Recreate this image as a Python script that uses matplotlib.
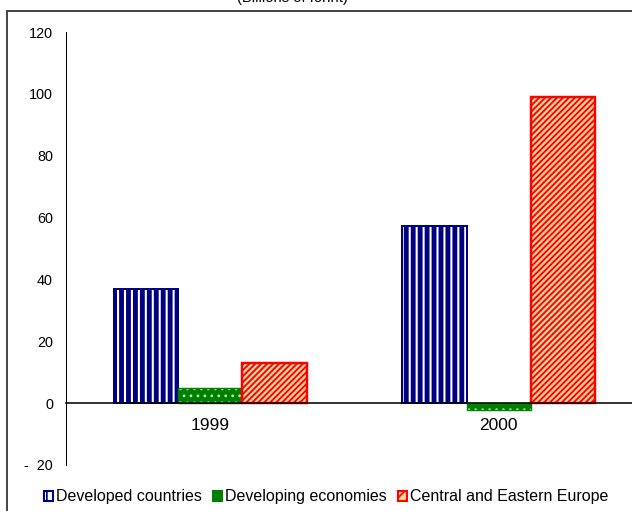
import matplotlib
matplotlib.use("Agg")
import matplotlib.pyplot as plt
import numpy as np
from matplotlib.patches import Patch, Rectangle

# data
years = ["1999", "2000"]
series = ["Developed countries", "Developing economies", "Central and Eastern Europe"]
developed = [36.8, 57.4]
developing = [4.8, -2.3]
central_eastern = [12.9, 99.0]
y_ticks = [-20, 0, 20, 40, 60, 80, 100, 120]
y_tick_labels = ["-  20", "0", "20", "40", "60", "80", "100", "120"]
title = "(Billions of forint)"

plt.rcParams['font.family'] = ['Liberation Sans', 'DejaVu Sans']

DPI = 125
W, H = 632, 511

# fill, hatch colour, hatch, edge colour, hatch width, edge width
styles = [
    ("white", "#000080", "|||", "#000080", 2.8, 1.15),
    ("#008000", "#b8e8b0", "...", "#008000", 0.8, 0.8),
    ("#ffd39b", "#ff0000", "///////", "#ff0000", 1.1, 1.4),
]
legend_hatches = ["||", "..", "////"]


def set_hatch_width(patches, lw):
    for p in patches:
        if hasattr(p, "set_hatch_linewidth"):
            p.set_hatch_linewidth(lw)
        else:
            p._hatch_linewidth = lw


fig = plt.figure(figsize=(W / DPI, H / DPI), dpi=DPI)
ax = fig.add_axes([66 / W, 1 - 465 / H, 577 / W, (465 - 32) / H])

x = np.arange(len(years))
width = 0.223
values = [developed, developing, central_eastern]

for i, (vals, st) in enumerate(zip(values, styles)):
    face, hcol, hatch, edge, hlw, elw = st
    pos = x + (i - 1) * width
    ax.bar(pos, vals, width, color=face, edgecolor="none", zorder=2)
    with plt.rc_context({'hatch.linewidth': hlw}):
        hb = ax.bar(pos, vals, width, facecolor="none", edgecolor=hcol, hatch=hatch,
                    linewidth=0, zorder=3)
    set_hatch_width(hb, hlw)
    ax.bar(pos, vals, width, facecolor="none", edgecolor=edge, linewidth=elw, zorder=4)

ax.set_xlim(-0.5, 1.5)
ax.set_ylim(-20, 120)
ax.set_yticks(y_ticks)
ax.set_yticklabels(y_tick_labels, fontsize=8.3)
ax.tick_params(axis='y', length=0, pad=7.5)
ax.set_xticks(x)
ax.set_xticklabels(years, fontsize=8.3)
ax.tick_params(axis='x', length=0, pad=8.5)
for s in ["top", "right"]:
    ax.spines[s].set_visible(False)
ax.spines['bottom'].set_position(('data', 0))
ax.spines['bottom'].set_zorder(5)
ax.spines['bottom'].set_linewidth(0.9)
ax.spines['left'].set_linewidth(0.6)

# legend
handles = []
for (face, hcol, hatch, edge, hlw, elw), lh in zip(styles, legend_hatches):
    handles.append(Patch(facecolor=face, edgecolor=edge, hatch=lh, linewidth=1.2))
fig.legend(handles, series, loc='center', bbox_to_anchor=(326 / W, 1 - 497 / H),
           ncol=3, frameon=False, fontsize=9.2, handlelength=0.6, handleheight=0.6,
           handletextpad=0.15, columnspacing=0.7, borderpad=0.2)

# figure frame and clipped title
fig.patches.append(Rectangle((6.5 / W, -0.05), 1.0, 1 - 11 / H + 0.05,
                             transform=fig.transFigure, fill=False,
                             edgecolor="#404040", linewidth=1.1))
fig.text(292 / W, 1 - 2 / H, title, ha='center', va='baseline', fontsize=8.5)

fig.savefig("out.png", dpi=DPI)
